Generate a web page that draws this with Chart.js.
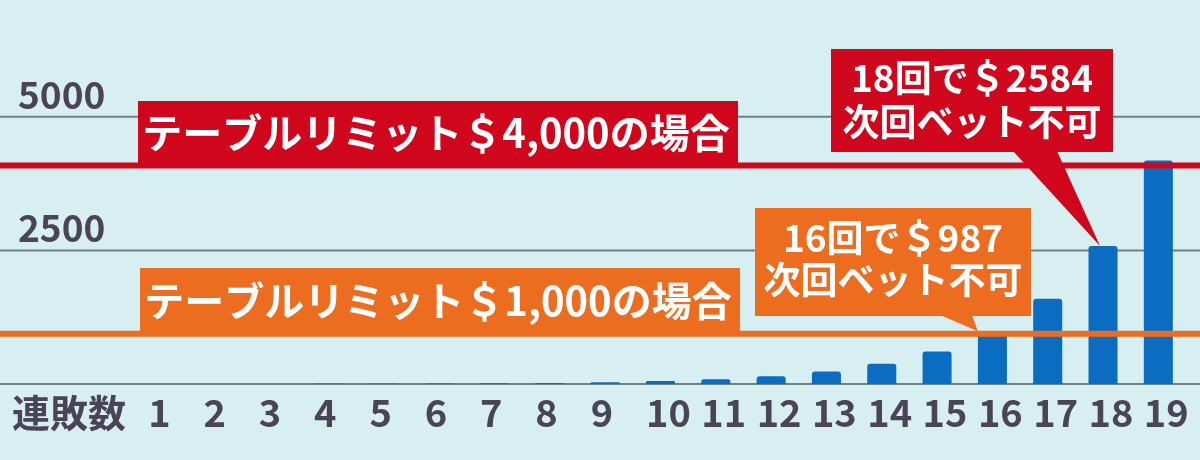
<!DOCTYPE html>
<html>
<head>
<meta charset="utf-8">
<script src="https://cdn.jsdelivr.net/npm/chart.js@4.4.0/dist/chart.umd.min.js"></script>
<style>
  html, body { margin: 0; padding: 0; background: #d7eff0; }
  canvas { display: block; }
</style>
</head>
<body>
<canvas id="c" width="1200" height="460"></canvas>
<script>
// 連敗回数とベット額（フィボナッチ）
const losses = ['1','2','3','4','5','6','7','8','9','10','11','12','13','14','15','16','17','18','19'];
const bets = [1, 1, 2, 3, 5, 8, 13, 21, 34, 55, 89, 144, 233, 377, 610, 987, 1597, 2584, 4181];
const yTicks = [0, 2500, 5000];
const xTitle = '連敗数';

// テーブルリミットの線（絵の位置から読んだ値）
const limitNames = ['テーブルリミット＄4,000の場合', 'テーブルリミット＄1,000の場合'];
const limitValues = [4090, 940];

// 吹き出し
const noteLines = [['18回で＄2584', '次回ベット不可'], ['16回で＄987', '次回ベット不可']];
const noteBars = ['18', '16'];

const FONT = '"Noto Sans CJK JP", "Noto Sans", sans-serif';
const TEXT = '#4b4356';
const RED = '#d0061c';
const ORANGE = '#ec6d20';
const colors = [RED, ORANGE];

// 四角と吹き出しの置き場所
const limitBox = [{ x: 138, top: 101 }, { x: 140, top: 268 }];
const noteBox = [
  { x: 831, y: 49, w: 282, h: 103, b1: 1013, b2: 1057, dx: -3, l1: 29, l2: 73 },
  { x: 755, y: 208, w: 276, h: 108, b1: 940, b2: 972, dx: -14.5, l1: 30, l2: 72 }
];

const overlay = {
  id: 'overlay',
  beforeDatasetsDraw(chart) {
    const { ctx, width, scales: { y } } = chart;
    ctx.save();
    ctx.strokeStyle = '#6e7f86';
    ctx.lineWidth = 2;
    yTicks.forEach(v => {
      const py = y.getPixelForValue(v);
      ctx.beginPath();
      ctx.moveTo(0, py);
      ctx.lineTo(width, py);
      ctx.stroke();
    });
    ctx.restore();
  },
  afterDatasetsDraw(chart) {
    const { ctx, width, scales: { x, y } } = chart;
    ctx.save();

    // limit lines + labels
    limitValues.forEach((v, i) => {
      const py = y.getPixelForValue(v);
      ctx.fillStyle = colors[i];
      ctx.fillRect(0, py - 3, width, 6);
      const b = limitBox[i];
      ctx.fillRect(b.x, b.top, 600, py - b.top);
      ctx.fillStyle = '#fff';
      ctx.font = 'bold 40px ' + FONT;
      ctx.textAlign = 'center';
      ctx.textBaseline = 'middle';
      ctx.fillText(limitNames[i], b.x + 298, (b.top + py - 3) / 2 + 1);
    });

    // callouts
    noteLines.forEach((lines, i) => {
      const b = noteBox[i];
      const idx = losses.indexOf(noteBars[i]);
      const tx = x.getPixelForValue(idx) + b.dx;
      const ty = y.getPixelForValue(bets[idx]);
      ctx.fillStyle = colors[i];
      ctx.fillRect(b.x, b.y, b.w, b.h);
      ctx.beginPath();
      ctx.moveTo(b.b1, b.y + b.h - 1);
      ctx.lineTo(tx, ty);
      ctx.lineTo(b.b2, b.y + b.h - 1);
      ctx.closePath();
      ctx.fill();
      ctx.fillStyle = '#fff';
      ctx.font = 'bold 37px ' + FONT;
      ctx.textAlign = 'center';
      ctx.textBaseline = 'middle';
      ctx.fillText(lines[0], b.x + b.w / 2, b.y + b.l1);
      ctx.fillText(lines[1], b.x + b.w / 2, b.y + b.l2);
    });

    // 連敗数
    ctx.fillStyle = TEXT;
    ctx.font = 'bold 38px ' + FONT;
    ctx.textAlign = 'left';
    ctx.textBaseline = 'middle';
    ctx.fillText(xTitle, 12, 413);
    ctx.restore();
  }
};

new Chart(document.getElementById('c'), {
  type: 'bar',
  data: {
    labels: losses,
    datasets: [{
      data: bets,
      backgroundColor: '#0b6dc1',
      borderRadius: { topLeft: 3, topRight: 3 },
      borderSkipped: 'bottom',
      barPercentage: 0.525,
      categoryPercentage: 1
    }]
  },
  options: {
    responsive: false,
    animation: false,
    layout: { padding: { left: 18, right: 14, top: 10, bottom: 0 } },
    plugins: { legend: { display: false }, tooltip: { enabled: false } },
    scales: {
      x: {
        grid: { display: false },
        border: { display: false },
        ticks: {
          color: TEXT,
          font: { family: FONT, size: 38, weight: 'bold' },
          align: 'start',
          labelOffset: -14.5,
          padding: -2,
          maxRotation: 0,
          autoSkip: false
        },
        afterFit(s) {
          s.height = 76;
          s.paddingLeft = 0;
          s.paddingRight = 0;
        }
      },
      y: {
        min: 0,
        max: 7000,
        grid: { display: false },
        border: { display: false },
        afterBuildTicks(s) { s.ticks = yTicks.map(v => ({ value: v })); },
        ticks: {
          color: TEXT,
          font: { family: FONT, size: 37, weight: 'bold' },
          crossAlign: 'far',
          labelOffset: -22,
          callback: v => (v === 0 ? '' : v)
        },
        afterFit(s) {
          s.width = 117;
          s.paddingTop = 0;
          s.paddingBottom = 0;
        }
      }
    }
  },
  plugins: [overlay]
});
</script>
</body>
</html>
